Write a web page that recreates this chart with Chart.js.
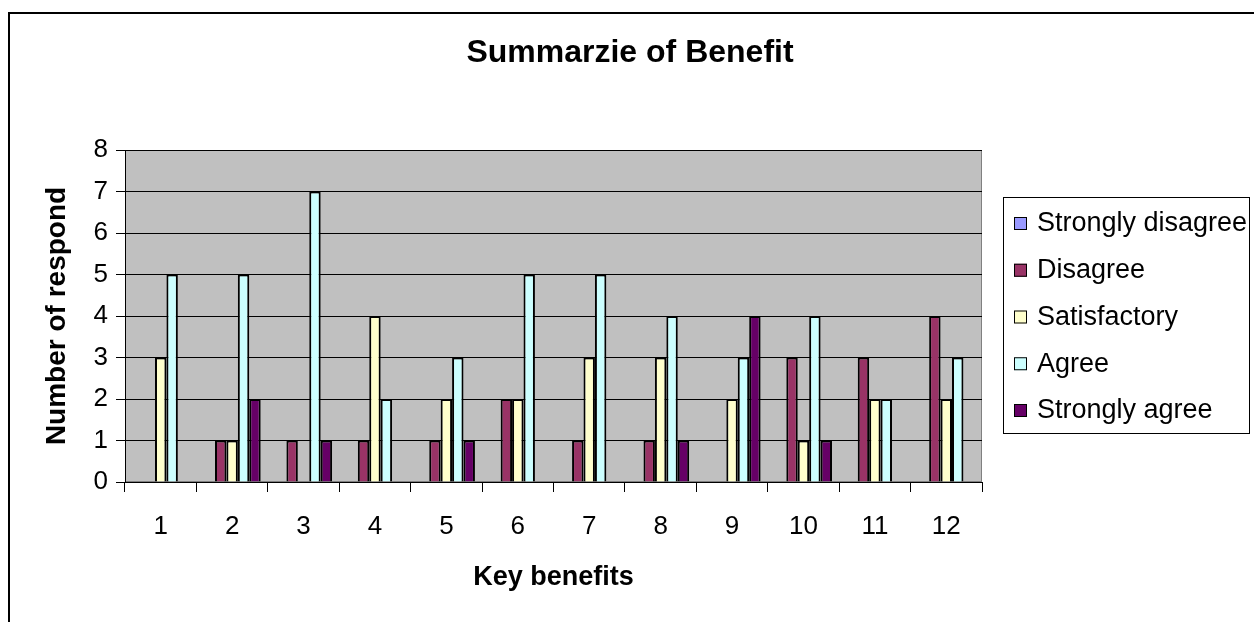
<!DOCTYPE html>
<html>
<head>
<meta charset="utf-8">
<title>Summarzie of Benefit</title>
<script src="https://cdn.jsdelivr.net/npm/chart.js@4.4.1/dist/chart.umd.min.js"></script>
<style>
    html, body { margin: 0; padding: 0; background: #ffffff; }
    #wrap { width: 1254px; height: 622px; }
</style>
</head>
<body>
<div id="wrap"><canvas id="benefitChart" width="1254" height="622"></canvas></div>
<script>
// ==================== ДАННЫЕ ====================

const categories = ['1', '2', '3', '4', '5', '6', '7', '8', '9', '10', '11', '12'];

const stronglyDisagree = [0, 0, 0, 0, 0, 0, 0, 0, 0, 0, 0, 0];
const disagree         = [0, 1, 1, 1, 1, 2, 1, 1, 0, 3, 3, 4];
const satisfactory     = [3, 1, 0, 4, 2, 2, 3, 3, 2, 1, 2, 2];
const agree            = [5, 5, 7, 2, 3, 5, 5, 4, 3, 4, 2, 3];
const stronglyAgree    = [0, 2, 1, 0, 1, 0, 0, 1, 4, 1, 0, 0];

const seriesNames  = ['Strongly disagree', 'Disagree', 'Satisfactory', 'Agree', 'Strongly agree'];
const seriesValues = [stronglyDisagree, disagree, satisfactory, agree, stronglyAgree];
const seriesColors = ['#9999FF', '#993366', '#FFFFCC', '#CCFFFF', '#660066'];

const yMin = 0;
const yMax = 8;
const yStep = 1;

const chartTitle = 'Summarzie of Benefit';
const xTitle = 'Key benefits';
const yTitle = 'Number of respond';

const FONT = "'Liberation Sans', Arial, sans-serif";

// ==================== ПЛАГИНЫ ====================

/**
 * Фон области построения, рамка диаграммы и заголовок
 */
const excelFrame = {
    id: 'excelFrame',
    beforeDraw(chart) {
        const { ctx, chartArea: a } = chart;
        ctx.save();
        ctx.fillStyle = '#ffffff';
        ctx.fillRect(0, 0, chart.width, chart.height);

        ctx.fillStyle = '#C0C0C0';
        ctx.fillRect(a.left, a.top, a.right - a.left, a.bottom - a.top);
        ctx.strokeStyle = '#808080';
        ctx.lineWidth = 1;
        ctx.strokeRect(a.left + 0.5, a.top + 0.5, a.right - a.left - 1, a.bottom - a.top - 1);

        // внешняя рамка уходит за край картинки
        ctx.strokeStyle = '#000000';
        ctx.lineWidth = 2;
        ctx.strokeRect(9, 13, chart.width + 40, chart.height + 40);

        ctx.fillStyle = '#000000';
        ctx.font = `bold 32px ${FONT}`;
        ctx.textAlign = 'center';
        ctx.textBaseline = 'middle';
        ctx.fillText(chartTitle, 630, 53);
        ctx.restore();
    }
};

/**
 * Легенда в рамке справа, как в Excel
 */
const boxedLegend = {
    id: 'boxedLegend',
    afterDraw(chart) {
        const { ctx } = chart;
        const box = { x: 1003, y: 197, w: 246, h: 236 };
        ctx.save();
        ctx.fillStyle = '#ffffff';
        ctx.fillRect(box.x, box.y, box.w, box.h);
        ctx.strokeStyle = '#000000';
        ctx.lineWidth = 1;
        ctx.strokeRect(box.x + 0.5, box.y + 0.5, box.w, box.h);

        ctx.font = `27px ${FONT}`;
        ctx.textAlign = 'left';
        ctx.textBaseline = 'middle';
        chart.data.datasets.forEach((ds, i) => {
            const cy = 223 + i * 46.75;
            ctx.fillStyle = ds.backgroundColor;
            ctx.fillRect(1014, cy - 6, 13, 13);
            ctx.strokeStyle = '#000000';
            ctx.strokeRect(1014.5, cy - 5.5, 12, 12);
            ctx.fillStyle = '#000000';
            ctx.fillText(ds.label, 1037, cy + 1);
        });
        ctx.restore();
    }
};

// ==================== ГРАФИК ====================

function renderBenefitChart() {
    const ctx = document.getElementById('benefitChart').getContext('2d');

    const datasets = seriesNames.map((name, i) => ({
        label: name,
        data: seriesValues[i],
        backgroundColor: seriesColors[i],
        borderColor: '#000000',
        borderWidth: 2,
        categoryPercentage: 0.8,
        barPercentage: 1.0
    }));

    return new Chart(ctx, {
        type: 'bar',
        data: { labels: categories, datasets: datasets },
        options: {
            responsive: false,
            animation: false,
            devicePixelRatio: 1,
            layout: { padding: { left: 0, right: 272, top: 150, bottom: 0 } },
            plugins: {
                legend: { display: false },
                title: { display: false },
                tooltip: { enabled: false }
            },
            scales: {
                x: {
                    offset: true,
                    grid: {
                        offset: true,
                        drawOnChartArea: false,
                        drawTicks: true,
                        tickLength: 10,
                        color: '#000000'
                    },
                    border: { color: '#000000', width: 1 },
                    ticks: {
                        color: '#000000',
                        font: { family: FONT, size: 26 },
                        padding: 19,
                        maxRotation: 0
                    },
                    title: {
                        display: true,
                        text: xTitle,
                        color: '#000000',
                        font: { family: FONT, size: 27, weight: 'bold' },
                        padding: { top: 0, bottom: 28 }
                    },
                    afterFit(scale) { scale.height = 140; }
                },
                y: {
                    min: yMin,
                    max: yMax,
                    grid: {
                        color: '#000000',
                        drawTicks: true,
                        tickLength: 9
                    },
                    border: { color: '#000000', width: 1 },
                    ticks: {
                        stepSize: yStep,
                        color: '#000000',
                        font: { family: FONT, size: 26 },
                        padding: 8
                    },
                    title: {
                        display: true,
                        text: yTitle,
                        color: '#000000',
                        font: { family: FONT, size: 28, weight: 'bold' },
                        padding: { top: 40, bottom: 0 }
                    },
                    afterFit(scale) { scale.width = 125; }
                }
            }
        },
        plugins: [excelFrame, boxedLegend]
    });
}

renderBenefitChart();
</script>
</body>
</html>
